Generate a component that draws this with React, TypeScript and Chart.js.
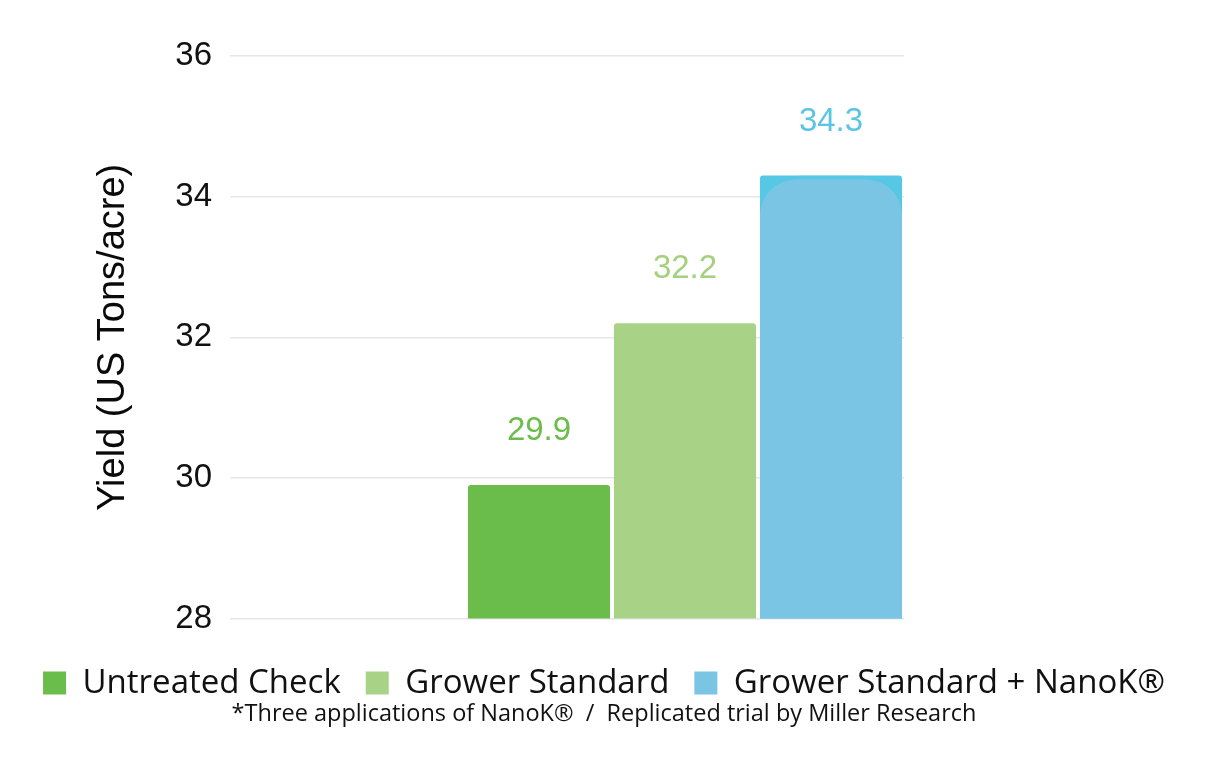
import React, { useEffect, useRef } from "react";
import { Chart, registerables } from "chart.js";

Chart.register(...registerables);

const CATEGORIES = ["Untreated Check", "Grower Standard", "Grower Standard + NanoK®"];
const VALUES = [29.9, 32.2, 34.3];
const Y_TICKS = [28, 30, 32, 34, 36];
const BAR_COLORS = ["#6abd4b", "#a8d387", "#7bc5e4"];
const LABEL_COLORS = ["#6cbd4c", "#a5d17f", "#5cc5e3"];
const HIGHLIGHT_COLOR = "#56c8e6";
const Y_TITLE = "Yield (US Tons/acre)";
const FOOTNOTE = "*Three applications of NanoK®  /  Replicated trial by Miller Research";

const SANS = "'Liberation Sans', Arial, Helvetica, sans-serif";
const LEGEND_FONT = "'Open Sans', 'Noto Sans', sans-serif";

const valueLabels = {
  id: "valueLabels",
  afterDatasetsDraw(chart: any) {
    const ctx = chart.ctx;
    ctx.save();
    ctx.font = `33px ${SANS}`;
    ctx.textAlign = "center";
    ctx.textBaseline = "middle";
    chart.data.datasets.forEach((ds: any, di: number) => {
      if (!ds.showValue) return;
      const meta = chart.getDatasetMeta(di);
      meta.data.forEach((el: any, i: number) => {
        const v = ds.data[i];
        if (v === null || v === undefined) return;
        ctx.fillStyle = ds.valueColor;
        ctx.fillText(v.toFixed(1), el.x, el.y - 54);
      });
    });
    ctx.restore();
  },
};

function only(idx: number) {
  return CATEGORIES.map((_, i) => (i === idx ? VALUES[i] : null));
}

export default function App() {
  const ref = useRef<HTMLCanvasElement | null>(null);

  useEffect(() => {
    document.body.style.margin = "0";
    const canvas = ref.current;
    if (!canvas) return;
    const common = {
      grouped: false,
      categoryPercentage: 1,
      barPercentage: 0.973,
      borderSkipped: "start",
    };
    const chart = new Chart(canvas, {
      type: "bar",
      data: {
        labels: CATEGORIES,
        datasets: [
          {
            ...common,
            label: CATEGORIES[0],
            data: only(0),
            backgroundColor: BAR_COLORS[0],
            borderRadius: 3,
            showValue: true,
            valueColor: LABEL_COLORS[0],
          } as any,
          {
            ...common,
            label: CATEGORIES[1],
            data: only(1),
            backgroundColor: BAR_COLORS[1],
            borderRadius: 3,
            showValue: true,
            valueColor: LABEL_COLORS[1],
          } as any,
          {
            ...common,
            label: CATEGORIES[2],
            data: only(2),
            backgroundColor: BAR_COLORS[2],
            borderColor: HIGHLIGHT_COLOR,
            borderWidth: { top: 4, left: 0, right: 0, bottom: 0 },
            borderRadius: { topLeft: 40, topRight: 40, bottomLeft: 0, bottomRight: 0 },
            order: -1,
            showValue: true,
            valueColor: LABEL_COLORS[2],
          } as any,
          {
            ...common,
            label: "base",
            data: only(2),
            backgroundColor: HIGHLIGHT_COLOR,
            borderRadius: 3,
            order: 1,
            hideInLegend: true,
          } as any,
        ],
      },
      options: {
        animation: false,
        responsive: false,
        devicePixelRatio: 1,
        layout: { padding: { top: 56, bottom: 42, left: 0, right: 0 } },
        plugins: {
          tooltip: { enabled: false },
          legend: {
            position: "bottom",
            labels: {
              font: { family: LEGEND_FONT, size: 33 },
              color: "#111",
              boxWidth: 23,
              boxHeight: 23,
              padding: 25,
              generateLabels(chart: any) {
                const items = Chart.defaults.plugins.legend.labels.generateLabels(chart);
                return items
                  .filter((it: any) => !(chart.data.datasets[it.datasetIndex] as any).hideInLegend)
                  .sort((a: any, b: any) => a.datasetIndex - b.datasetIndex)
                  .map((it: any) => ({ ...it, lineWidth: 0, strokeStyle: "rgba(0,0,0,0)" }));
              },
            },
          },
          subtitle: {
            display: true,
            position: "bottom",
            text: FOOTNOTE,
            color: "#111",
            font: { family: LEGEND_FONT, size: 23.5, lineHeight: 0.4 },
            padding: { top: 0, bottom: 0 },
          },
        },
        scales: {
          x: {
            display: true,
            grid: { display: false },
            border: { display: false },
            ticks: { display: false },
            afterFit(s: any) {
              s.height = 23;
            },
          },
          y: {
            min: 28,
            max: 36,
            afterBuildTicks(s: any) {
              s.ticks = Y_TICKS.map((v) => ({ value: v }));
            },
            grid: {
              color: "#e6e6e6",
              lineWidth: 1.5,
              drawTicks: true,
              tickLength: 236,
            },
            border: { display: false },
            ticks: {
              padding: 18,
              color: "#111",
              font: { family: SANS, size: 33 },
            },
            title: {
              display: true,
              text: Y_TITLE,
              color: "#0a0a0a",
              font: { family: SANS, size: 38 },
              padding: { top: 91, bottom: 0 },
            },
            afterFit(s: any) {
              s.width = 466;
            },
          },
          y2: {
            position: "right",
            display: true,
            grid: { display: false },
            border: { display: false },
            ticks: { display: false },
            afterFit(s: any) {
              s.width = 304;
            },
          },
        },
      } as any,
      plugins: [valueLabels],
    });
    return () => chart.destroy();
  }, []);

  return (
    <div style={{ width: 1208, height: 761, background: "#fff" }}>
      <canvas ref={ref} width={1208} height={761} style={{ width: 1208, height: 761, display: "block" }} />
    </div>
  );
}
